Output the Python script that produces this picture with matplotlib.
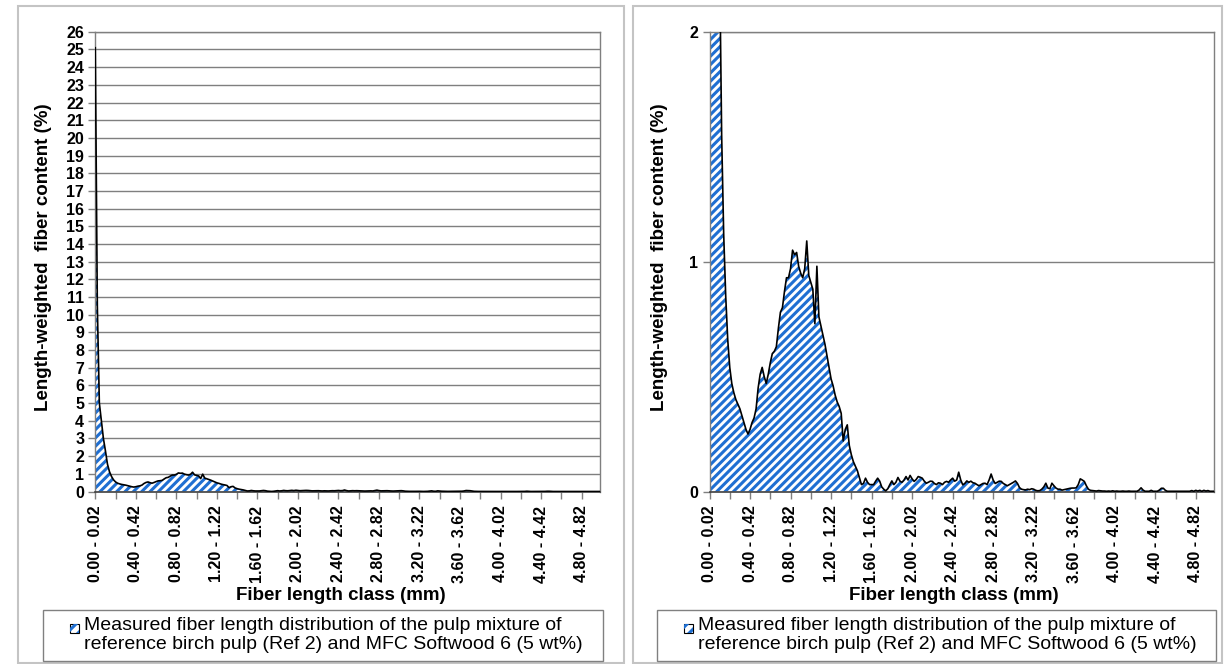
import numpy as np
import matplotlib
matplotlib.use("Agg")
import matplotlib.pyplot as plt
from matplotlib.patches import Rectangle

# ---------------- data ----------------
class_width = 0.02
n_classes = 250
class_labels = ["%.2f - %.2f" % (i * class_width, (i + 1) * class_width) for i in range(n_classes)]

fiber_content = [
    25.1, 10.5, 5.0, 4.0, 3.0, 2.3, 1.55, 1.12, 0.85, 0.66,
    0.54, 0.47, 0.43, 0.40, 0.38, 0.36, 0.33, 0.30, 0.27, 0.25,
    0.27, 0.30, 0.32, 0.36, 0.45, 0.51, 0.54, 0.50, 0.47, 0.51,
    0.56, 0.60, 0.61, 0.63, 0.71, 0.78, 0.80, 0.87, 0.93, 0.93,
    0.97, 1.05, 1.03, 1.04, 0.98, 0.95, 0.93, 0.97, 1.09, 0.94,
    0.91, 0.88, 0.73, 0.98, 0.76, 0.72, 0.68, 0.64, 0.59, 0.54,
    0.49, 0.46, 0.42, 0.39, 0.37, 0.34, 0.22, 0.27, 0.29, 0.20,
    0.16, 0.13, 0.11, 0.09, 0.06, 0.03, 0.035, 0.058, 0.04, 0.03,
    0.03, 0.03, 0.045, 0.058, 0.045, 0.02, 0.01, 0.003, 0.012, 0.03,
    0.046, 0.03, 0.04, 0.061, 0.045, 0.04, 0.05, 0.065, 0.05, 0.07,
    0.055, 0.044, 0.052, 0.065, 0.062, 0.058, 0.045, 0.036, 0.04, 0.045,
    0.044, 0.035, 0.03, 0.038, 0.036, 0.03, 0.04, 0.044, 0.04, 0.05,
    0.058, 0.045, 0.05, 0.084, 0.05, 0.029, 0.035, 0.046, 0.04, 0.045,
    0.038, 0.036, 0.03, 0.025, 0.03, 0.035, 0.036, 0.03, 0.05, 0.076,
    0.05, 0.035, 0.04, 0.045, 0.044, 0.035, 0.03, 0.025, 0.03, 0.035,
    0.04, 0.046, 0.035, 0.017, 0.01, 0.008, 0.007, 0.01, 0.008, 0.012,
    0.01, 0.005, 0.003, 0.004, 0.01, 0.02, 0.036, 0.015, 0.012, 0.036,
    0.025, 0.015, 0.01, 0.01, 0.006, 0.008, 0.01, 0.012, 0.014, 0.015,
    0.015, 0.016, 0.03, 0.055, 0.05, 0.044, 0.025, 0.01, 0.005, 0.004,
    0.003, 0.002, 0.004, 0.003, 0.002, 0.002, 0.001, 0.002, 0.001, 0.003,
    0.001, 0.002, 0.001, 0.001, 0.002, 0.001, 0.001, 0.002, 0.001, 0.001,
    0.001, 0.001, 0.006, 0.016, 0.006, 0.001, 0.001, 0.001, 0.005, 0.001,
    0.001, 0.001, 0.006, 0.014, 0.014, 0.005, 0.001, 0.001, 0.001, 0.001,
    0.001, 0.001, 0.001, 0.001, 0.001, 0.001, 0.001, 0.001, 0.004, 0.001,
    0.005, 0.002, 0.005, 0.001, 0.005, 0.002, 0.004, 0.001, 0.001, 0.001,
]

legend_text = ("Measured fiber length distribution of the pulp mixture of\n"
               "reference birch pulp (Ref 2) and MFC Softwood 6 (5 wt%)")
x_title = "Fiber length class (mm)"
y_title = "Length-weighted  fiber content (%)"

# ---------------- style ----------------
plt.rcParams['font.family'] = ['Liberation Sans', 'DejaVu Sans']
plt.rcParams['hatch.linewidth'] = 2.2
W, H = 1224.0, 664.0
BLUE = '#1f6fd2'
GRID = '#7f7f7f'
BORDER = '#c4c4c4'

fig = plt.figure(figsize=(W / 100, H / 100), dpi=100)
fig.patch.set_facecolor('white')


def fx(px):
    return px / W


def fy(py):
    return 1 - py / H


x = np.arange(n_classes)
vals = np.array(fiber_content)


def make_panel(left_px, ymax, yticks, panel_left, panel_right, legend_left, legend_right,
               icon_x, text_x, ylab_x, xlab_x):
    ax = fig.add_axes([fx(left_px), fy(491.5), (504.5) / W, (491.5 - 31.8) / H])
    ax.fill_between(x, vals, 0, facecolor='white', edgecolor=BLUE, hatch='////',
                    linewidth=0, zorder=2)
    ax.plot(x, vals, color='black', lw=1.2, zorder=3)
    ax.set_xlim(0, n_classes - 1)
    ax.set_ylim(0, ymax)
    ax.set_yticks(yticks)
    ax.set_yticklabels([str(t) for t in yticks], fontsize=11.5, fontweight='bold')
    ax.yaxis.grid(True, color=GRID, lw=1.0, zorder=1)
    ax.set_axisbelow(True)
    tick_pos = list(range(0, n_classes, 10))
    ax.set_xticks(tick_pos)
    ax.set_xticklabels([class_labels[i] if i % 20 == 0 else '' for i in tick_pos],
                       rotation=90, fontsize=11.5, fontweight='bold')
    ax.tick_params(axis='x', direction='out', length=5, width=1, color=GRID, pad=5)
    ax.tick_params(axis='y', direction='out', length=5, width=1, color=GRID, pad=3)
    for s in ['top', 'right', 'left']:
        ax.spines[s].set_color(GRID)
        ax.spines[s].set_linewidth(1.0)
    ax.spines['bottom'].set_color('#404040')
    ax.spines['bottom'].set_linewidth(1.2)

    fig.text(fx(ylab_x), fy(257), y_title, rotation=90, ha='center', va='center',
             fontsize=13.5, fontweight='bold')
    fig.text(fx(xlab_x), fy(595), x_title, ha='center', va='center',
             fontsize=13.5, fontweight='bold')

    # panel border
    fig.add_artist(Rectangle((fx(panel_left), fy(663)), (panel_right - panel_left) / W,
                             (663 - 6) / H, transform=fig.transFigure, fill=False,
                             edgecolor=BORDER, lw=1.5))
    # legend box
    fig.add_artist(Rectangle((fx(legend_left), fy(661)), (legend_right - legend_left) / W,
                             (661 - 610) / H, transform=fig.transFigure, fill=False,
                             edgecolor='#808080', lw=1.0))
    fig.add_artist(Rectangle((fx(icon_x), fy(633)), 9 / W, 9 / H,
                             transform=fig.transFigure, facecolor='white',
                             edgecolor='black', lw=0.8))
    fig.add_artist(Rectangle((fx(icon_x), fy(633)), 9 / W, 9 / H,
                             transform=fig.transFigure, facecolor='none',
                             edgecolor=BLUE, hatch='///', lw=0))
    fig.text(fx(text_x), fy(617), legend_text, ha='left', va='top', fontsize=14,
             linespacing=1.15)
    return ax


make_panel(95.3, 26, list(range(0, 27)), 18, 624, 43, 603, 70, 84, 43.5, 341)
make_panel(709.5, 2, [0, 1, 2], 633, 1222, 657, 1216, 684, 698, 660, 954)

fig.savefig('out.png', dpi=100, facecolor='white')
